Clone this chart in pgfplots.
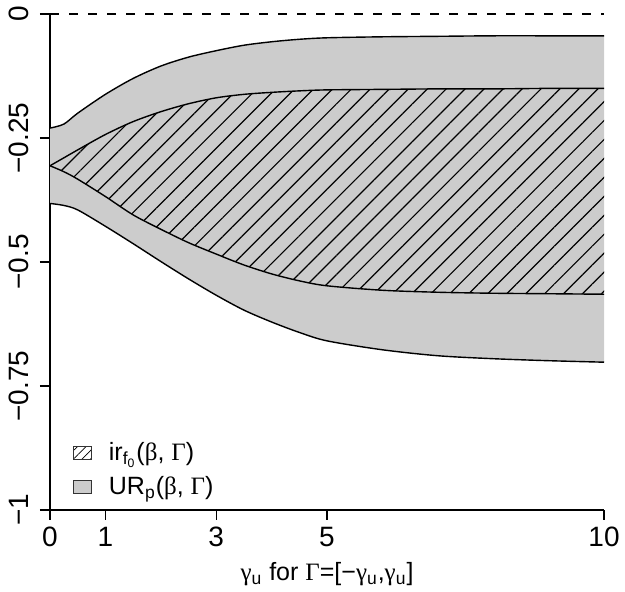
\documentclass[border=0pt]{standalone}
\usepackage{fontspec}
\setmainfont{Liberation Sans}
\newfontfamily\grk{Liberation Serif}
\usepackage{pgfplots}
\pgfplotsset{compat=1.18}
\usepgfplotslibrary{fillbetween}
\usetikzlibrary{patterns.meta}
\definecolor{rgray}{HTML}{CCCCCC}

% bounds of the two regions
\pgfplotstableread{
x     uo      iu      il      ol
0     -0.230  -0.306  -0.306  -0.382
0.25  -0.222  -0.290  -0.318  -0.386
0.5   -0.200  -0.274  -0.333  -0.395
1     -0.162  -0.243  -0.368  -0.428
1.5   -0.130  -0.217  -0.405  -0.463
2     -0.105  -0.197  -0.434  -0.499
2.5   -0.087  -0.181  -0.461  -0.534
3     -0.074  -0.169  -0.484  -0.567
3.5   -0.063  -0.162  -0.506  -0.597
4     -0.056  -0.158  -0.524  -0.621
4.5   -0.051  -0.155  -0.538  -0.642
5     -0.048  -0.153  -0.548  -0.659
6     -0.046  -0.152  -0.557  -0.677
7     -0.045  -0.151  -0.561  -0.689
8     -0.044  -0.151  -0.563  -0.695
9     -0.044  -0.150  -0.564  -0.699
10    -0.044  -0.150  -0.565  -0.702
}\bounds

\begin{document}
\begin{tikzpicture}
\begin{axis}[
  at={(0,0)}, anchor=south west,
  scale only axis,
  width=277pt, height=248pt,
  xmin=0, xmax=10, ymin=-1, ymax=0,
  axis lines=left,
  axis line style={-, line width=0.6pt},
  tick style={black, line width=0.6pt},
  tick align=outside,
  major tick length=5pt,
  clip=false,
  font=\fontsize{12.5}{15}\selectfont,
  tick label style={font=\fontsize{14}{16}\selectfont},
  xtick={0,1,3,5,10},
  xticklabels={0,1,3,5,10},
  ytick={-1,-0.75,-0.5,-0.25,0},
  yticklabels={−1,−0.75,−0.5,−0.25,0},
  yticklabel style={rotate=90, anchor=south, yshift=2pt},
  xlabel={{\grk γ}\textsubscript{u} for {\grk Γ}=[−{\grk γ}\textsubscript{u},{\grk γ}\textsubscript{u}]},
  xlabel style={yshift=-1pt},
  legend cell align=left,
  legend style={draw=none, fill=none, at={(axis description cs:0.041,0.018)},
    anchor=south west, inner sep=0pt, row sep=3.5pt,
    nodes={inner sep=1.5pt},
    /tikz/every odd column/.append style={column sep=7pt}},
  legend image code/.code={\draw[#1] (0pt,-3.3pt) rectangle (9pt,3.3pt);},
]
\addlegendimage{draw=black!80, line width=0.4pt, pattern={Lines[angle=45,distance=3pt,line width=0.4pt]}}
\addlegendentry{ir\textsubscript{f\textsubscript{0}}({\grk β}, {\grk Γ})}
\addlegendimage{draw=black!80, line width=0.4pt, fill=rgray}
\addlegendentry{UR\textsubscript{p}({\grk β}, {\grk Γ})}

\addplot[name path=uo, draw=none, smooth, forget plot] table[y=uo] {\bounds};
\addplot[name path=ol, draw=none, smooth, forget plot] table[y=ol] {\bounds};
\addplot[name path=iu, draw=none, smooth, forget plot] table[y=iu] {\bounds};
\addplot[name path=il, draw=none, smooth, forget plot] table[y=il] {\bounds};

\addplot[fill=rgray, draw=none, forget plot] fill between[of=uo and ol];
\addplot[pattern={Lines[angle=45,distance=6.7pt,line width=0.6pt]}, draw=none, forget plot] fill between[of=iu and il];

\addplot[black, line width=0.7pt, smooth, forget plot] table[y=uo] {\bounds};
\addplot[black, line width=0.7pt, smooth, forget plot] table[y=ol] {\bounds};
\addplot[black, line width=0.7pt, smooth, forget plot] table[y=iu] {\bounds};
\addplot[black, line width=0.7pt, smooth, forget plot] table[y=il] {\bounds};

\addplot[black, line width=0.6pt, dash pattern=on 4.5pt off 5pt, forget plot] coordinates {(0,0)(10,0)};
\end{axis}
\pgfresetboundingbox
\useasboundingbox (-25pt,-41pt) rectangle (287.5pt,255pt);
\end{tikzpicture}
\end{document}
